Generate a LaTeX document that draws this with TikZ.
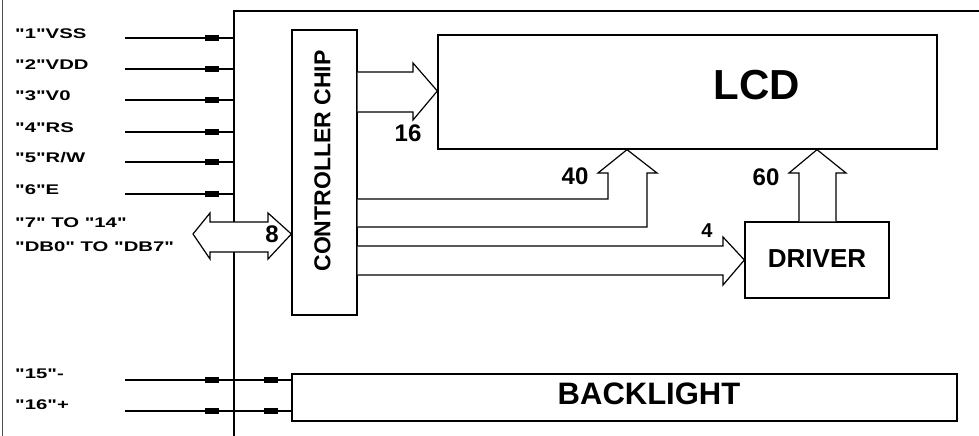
\documentclass[tikz,border=0pt]{standalone}
\usepackage{fontspec}
\setmainfont{Liberation Sans}[Ligatures=TeXOff]
\usepackage{graphicx}
\newcommand{\widetxt}[1]{\scalebox{1.45}[1]{#1}}
\begin{document}
\begin{tikzpicture}[x=1pt,y=-1pt,
  box/.style={draw, line width=1.3pt, inner sep=0pt, fill=white},
  pinlbl/.style={anchor=west, inner sep=0pt, font=\bfseries\fontsize{14}{16}\selectfont},
  wire/.style={line width=1.3pt},
  busarrow/.style={line width=1.2pt, fill=white, line join=miter},
  num/.style={inner sep=0pt, font=\bfseries\fontsize{24}{26}\selectfont},
  pad/.style={fill=black, inner sep=0pt, minimum width=14pt, minimum height=6pt},
  title/.style={inner sep=0pt, font=\bfseries\fontsize{#1}{#1}\selectfont}
]
\useasboundingbox (0,0) rectangle (979,436);
% frame
\draw[line width=1pt, black!70] (2,0) -- (2,436);
\coordinate (obl) at (234,436);
\coordinate (otl) at (234,11);
\coordinate (otr) at (979,11);
\draw[wire] (obl) -- (otl) -- (otr);
% boxes
\node[box, minimum width=65pt, minimum height=285pt] (ctrl) at (324.5,172.5) {};
\node[title=23, rotate=90] (ctrltxt) at (322.5,161) {CONTROLLER CHIP};
\node[box, minimum width=499pt, minimum height=114pt] (lcd) at (687.5,92) {};
\node[title=42] (lcdtxt) at (757,85) {LCD};
\node[box, minimum width=144pt, minimum height=76pt] (drv) at (817,260) {};
\node[title=26] (drvtxt) at (817,259) {DRIVER};
\node[box, minimum width=665pt, minimum height=47pt] (bl) at (624.5,397.5) {};
\node[title=31] (bltxt) at (649,393.5) {BACKLIGHT};
% pins 1-6
\foreach \n/\y/\t in {1/38/{"1"VSS},2/69/{"2"VDD},3/100/{"3"V0},4/132/{"4"RS},5/162/{"5"R/W},6/194/{"6"E}}{
  \coordinate (p\n) at (125,\y);
  \coordinate (q\n) at (otl |- 0,\y);
  \node[pinlbl] (l\n) at (15,\y-4) {\widetxt{\t}};
  \draw[wire] (p\n) -- (q\n);
  \node[pad] (pad\n) at (212,\y) {};
}
% data bus
\node[pinlbl] (l7) at (15,223) {\widetxt{"7" TO "14"}};
\node[pinlbl] (l8) at (15,247) {\widetxt{"DB0" TO "DB7"}};
\coordinate (bus) at (0,234);
\draw[busarrow] (193,234) -- (210,213) -- (210,222) -- (268,222) -- (268,213)
  -- (ctrl.west |- bus) -- (268,259) -- (268,252) -- (210,252) -- (210,259) -- cycle;
\node[num] (n8) at (272,234) {8};
% backlight pins
\foreach \n/\y/\t in {15/380/{"15"-},16/411/{"16"+}}{
  \coordinate (p\n) at (125,\y);
  \coordinate (q\n) at (bl.west |- 0,\y);
  \node[pinlbl] (l\n) at (15,\y-6) {\widetxt{\t}};
  \draw[wire] (p\n) -- (q\n);
  \node[pad] (pada\n) at (212,\y) {};
  \node[pad] (padb\n) at (271,\y) {};
}
% 16 arrow to LCD
\draw[busarrow] (ctrl.east |- 0,72) -- (413,72) -- (413,63) -- (lcd.west |- 0,91)
  -- (413,120) -- (413,112) -- (ctrl.east |- 0,112);
\node[num] (n16) at (408,133) {16};
% 40 arrow to LCD
\draw[busarrow] (ctrl.east |- 0,199) -| (608,173) -- (598,173) -- (lcd.south -| 627,0)
  -- (657,173) -- (647,173) |- (ctrl.east |- 0,227);
\node[num] (n40) at (575,176) {40};
% 4 arrow to driver
\draw[busarrow] (ctrl.east |- 0,246) -- (723,246) -- (723,237) -- (drv.west |- 0,260)
  -- (723,285) -- (723,275) -- (ctrl.east |- 0,275);
\node[num, font=\bfseries\fontsize{20}{22}\selectfont] (n4) at (707,231) {4};
% 60 arrow driver to LCD
\draw[busarrow] (drv.north -| 799,0) -- (799,173) -- (789,173) -- (lcd.south -| 817,0)
  -- (846,173) -- (836,173) -- (drv.north -| 836,0);
\node[num] (n60) at (766,177) {60};
\end{tikzpicture}
\end{document}
